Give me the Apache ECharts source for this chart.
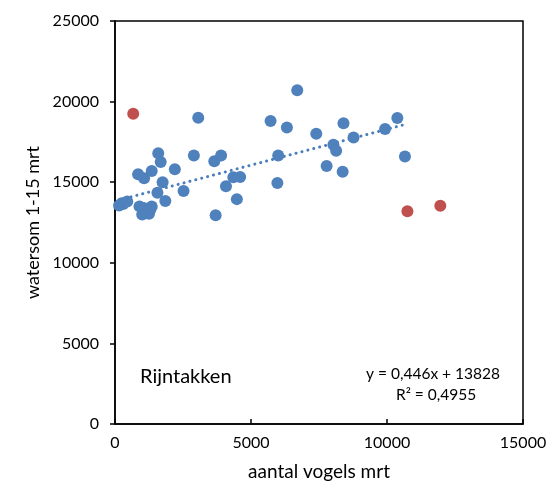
<!DOCTYPE html>
<html><head><meta charset="utf-8">
<script src="https://cdn.jsdelivr.net/npm/echarts@6/dist/echarts.min.js"></script>
<style>html,body{margin:0;padding:0;background:#fff}#c{width:547px;height:482px}</style>
</head><body><div id="c"></div>
<script>
// Blue points: [aantal vogels mrt, watersom 1-15 mrt]
const blueX = [150, 250, 300, 450, 900, 1000, 1050, 1150, 1250, 1300, 1350, 850, 1070, 1350, 1590, 1680, 1750, 1560, 1850, 2200, 2520, 2900, 3060, 3650, 3900, 3700, 4080, 4480, 4350, 4600, 5720, 6320, 6000, 5970, 6700, 7400, 8400, 8770, 8030, 8130, 7780, 8370, 9930, 10380, 10660];
const blueY = [13550, 13700, 13650, 13800, 13500, 13000, 13400, 13200, 13050, 13300, 13500, 15500, 15250, 15700, 16800, 16250, 15000, 14350, 13830, 15800, 14450, 16650, 19000, 16300, 16650, 12950, 14750, 13950, 15300, 15320, 18800, 18400, 16650, 14950, 20700, 18000, 18650, 17780, 17330, 16950, 16000, 15650, 18300, 18980, 16600];
// Red points (outliers)
const redX = [670, 10750, 11960];
const redY = [19250, 13200, 13540];
// Trendline y = 0,446x + 13828
const trendSlope = 0.446;
const trendIntercept = 13828;
const xTicks = [0, 5000, 10000, 15000];
const yTicks = [0, 5000, 10000, 15000, 20000, 25000];

const blue = blueX.map((x, i) => [x, blueY[i]]);
const red = redX.map((x, i) => [x, redY[i]]);
const xmin = Math.min(...blueX), xmax = Math.max(...blueX);
const trend = [[xmin, trendSlope * xmin + trendIntercept], [xmax, trendSlope * xmax + trendIntercept]];

const F = 'Lato';
const chart = echarts.init(document.getElementById('c'), null, {renderer: 'canvas'});
chart.setOption({
  animation: false,
  grid: {left: 115, right: 24, top: 21, bottom: 58, containLabel: false, outerBoundsMode: 'none',
         show: true, borderColor: '#000', borderWidth: 1.5, backgroundColor: 'transparent'},
  xAxis: {
    type: 'value', min: xTicks[0], max: xTicks[xTicks.length - 1], interval: 5000,
    name: 'aantal vogels mrt', nameLocation: 'middle', nameGap: 38,
    nameTextStyle: {fontFamily: F, fontSize: 19, color: '#000'},
    axisLine: {show: true, lineStyle: {color: '#000', width: 1.5}},
    axisTick: {show: true, inside: true, length: 5, lineStyle: {color: '#000', width: 1.5}},
    axisLabel: {fontFamily: F, fontSize: 16, color: '#000', margin: 11, formatter: v => String(v)},
    splitLine: {show: false}
  },
  yAxis: {
    type: 'value', min: yTicks[0], max: yTicks[yTicks.length - 1], interval: 5000,
    name: 'watersom 1-15 mrt', nameLocation: 'middle', nameGap: 66,
    nameTextStyle: {fontFamily: F, fontSize: 18, color: '#000'},
    axisLine: {show: true, lineStyle: {color: '#000', width: 1.5}},
    axisTick: {show: true, inside: false, length: 5, lineStyle: {color: '#000', width: 1.5}},
    axisLabel: {fontFamily: F, fontSize: 16, color: '#000', margin: 16, formatter: v => String(v)},
    splitLine: {show: false}
  },
  series: [
    {type: 'line', data: trend, showSymbol: false, symbol: 'none', z: 1,
     lineStyle: {color: '#4a7ebb', width: 3, type: [0.1, 6], cap: 'round'}},
    {type: 'scatter', data: blue, symbolSize: 12, z: 2, itemStyle: {color: '#4f81bd', opacity: 1}},
    {type: 'scatter', data: red, symbolSize: 12, z: 2, itemStyle: {color: '#c0504d', opacity: 1}}
  ],
  graphic: [
    {type: 'text', left: 140, top: 367, style: {text: 'Rijntakken', font: '20px ' + F, fill: '#000'}},
    {type: 'text', left: 366, top: 366, style: {text: 'y = 0,446x + 13828', font: '15.5px ' + F, fill: '#000'}},
    {type: 'text', left: 396, top: 387, style: {text: 'R² = 0,4955', font: '15.5px ' + F, fill: '#000'}}
  ]
});
</script></body></html>
